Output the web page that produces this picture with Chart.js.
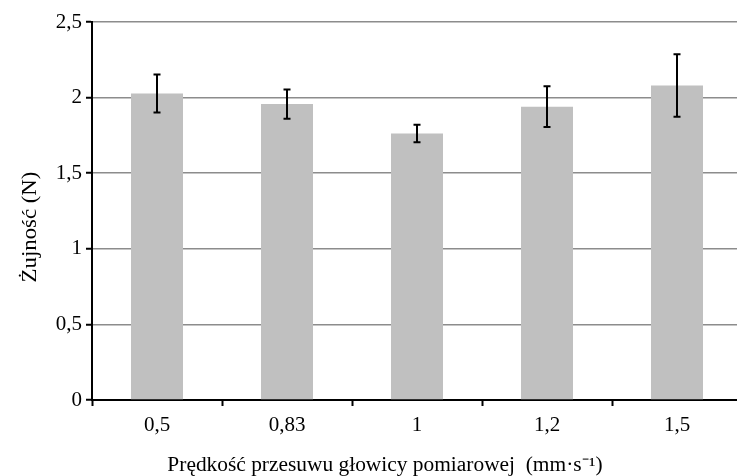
<!DOCTYPE html>
<html>
<head>
<meta charset="utf-8">
<script src="https://cdn.jsdelivr.net/npm/chart.js@4"></script>
<style>
  body { margin: 0; overflow: hidden; background: #fff; }
  #wrap { width: 742px; height: 476px; }
</style>
</head>
<body>
<div id="wrap"><canvas id="myChart" width="742" height="476"></canvas></div>
<script>
    const labels = ["0,5", "0,83", "1", "1,2", "1,5"];
    const means = [2.027, 1.957, 1.763, 1.94, 2.08];
    const errors = [0.125, 0.097, 0.058, 0.135, 0.207];
    const yTicks = [0, 0.5, 1, 1.5, 2, 2.5];
    const xTitle = "Prędkość przesuwu głowicy pomiarowej  (mm·s⁻¹)";
    const yTitle = "Żujność (N)";
    const FONT = "'Liberation Serif', 'Times New Roman', serif";

    // error bars + axis titles drawn on top
    const extras = {
        id: 'extras',
        afterDatasetsDraw(chart) {
            const ctx = chart.ctx;
            const xs = chart.scales.x, ys = chart.scales.y;
            ctx.save();
            ctx.strokeStyle = '#000';
            ctx.lineWidth = 2;
            means.forEach((m, i) => {
                const x = xs.getPixelForValue(i);
                const top = ys.getPixelForValue(m + errors[i]);
                const bot = ys.getPixelForValue(m - errors[i]);
                ctx.beginPath();
                ctx.moveTo(x, top); ctx.lineTo(x, bot);
                ctx.moveTo(x - 3.5, top); ctx.lineTo(x + 3.5, top);
                ctx.moveTo(x - 3.5, bot); ctx.lineTo(x + 3.5, bot);
                ctx.stroke();
            });
            ctx.fillStyle = '#000';
            ctx.font = "20px " + FONT;
            ctx.textAlign = 'center';
            ctx.textBaseline = 'alphabetic';
            ctx.save();
            ctx.translate(385, 471);
            ctx.scale(1.07, 1);
            ctx.fillText(xTitle, 0, 0);
            ctx.restore();
            ctx.translate(36, 227);
            ctx.rotate(-Math.PI / 2);
            ctx.scale(1.14, 1);
            ctx.fillText(yTitle, 0, 0);
            ctx.restore();
        }
    };

    let ctx = document.getElementById('myChart').getContext('2d');
    let chart = new Chart(ctx, {
        type: 'bar',
        data: {
            labels: labels,
            datasets: [{
                data: means,
                backgroundColor: '#c0c0c0',
                borderWidth: 0,
                categoryPercentage: 1,
                barPercentage: 0.4
            }]
        },
        options: {
            responsive: false,
            animation: false,
            layout: { padding: { top: 22 } },
            plugins: { legend: { display: false }, tooltip: { enabled: false } },
            scales: {
                x: {
                    afterFit: s => { s.height = 76; },
                    grid: { drawOnChartArea: false, tickLength: 6, tickColor: '#000', tickWidth: 2 },
                    border: { color: '#000', width: 2 },
                    ticks: { color: '#000', font: { family: FONT, size: 21 }, padding: 7 }
                },
                y: {
                    min: 0, max: 2.5,
                    afterFit: s => { s.width = 92; },
                    afterBuildTicks: s => { s.ticks = yTicks.map(v => ({ value: v })); },
                    grid: { color: '#8c8c8c', lineWidth: 1.5, tickLength: 6, tickColor: '#000', tickWidth: 2 },
                    border: { color: '#000', width: 2 },
                    ticks: {
                        color: '#000', padding: 4,
                        font: { family: FONT, size: 21 },
                        callback: v => String(v).replace('.', ',')
                    }
                }
            }
        },
        plugins: [extras]
    });
</script>
</body>
</html>
